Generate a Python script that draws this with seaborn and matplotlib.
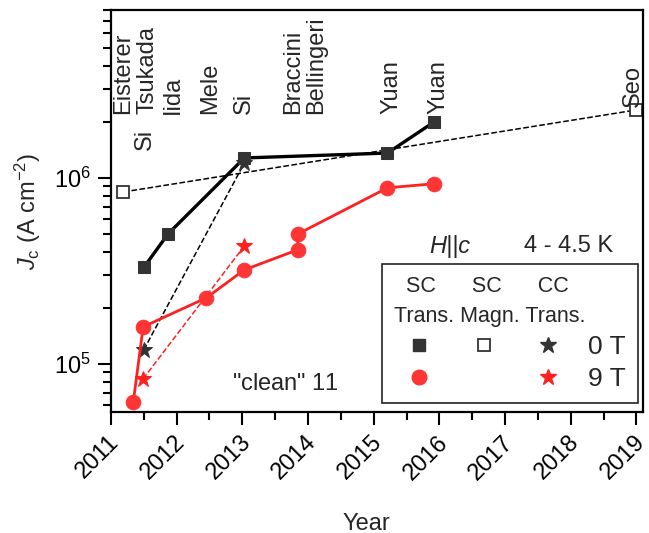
import matplotlib
matplotlib.use("Agg")
import matplotlib.pyplot as plt
import matplotlib.transforms as mtransforms
from matplotlib.lines import Line2D
from matplotlib.ticker import LogLocator, NullFormatter, MultipleLocator
import seaborn as sns

# SC transport, 0 T
years_sc_0T = [2011.50, 2011.87, 2013.03, 2015.21, 2015.92]
jc_sc_0T = [3.3e5, 5.0e5, 1.28e6, 1.36e6, 2.0e6]
# SC magnetisation, 0 T
years_magn_0T = [2011.19, 2019.0]
jc_magn_0T = [8.4e5, 2.32e6]
# CC transport, 0 T
years_cc_0T = [2011.50, 2013.03]
jc_cc_0T = [1.19e5, 1.20e6]
# SC transport, 9 T
years_sc_9T = [2011.34, 2011.49, 2012.45, 2013.03, 2013.84, 2013.85, 2015.21, 2015.92]
jc_sc_9T = [6.25e4, 1.58e5, 2.26e5, 3.2e5, 4.1e5, 5.0e5, 8.84e5, 9.3e5]
# CC transport, 9 T
years_cc_9T = [2011.49, 2013.03]
jc_cc_9T = [8.3e4, 4.3e5]

# author labels
authors = ['Eisterer', 'Tsukada', 'Si', 'Iida', 'Mele', 'Si', 'Braccini',
           'Bellingeri', 'Yuan', 'Yuan', 'Seo']
author_x = [2011.19, 2011.56, 2011.52, 2011.94, 2012.51, 2013.02, 2013.77,
            2014.12, 2015.27, 2015.98, 2018.94]
author_y = [2.22e6, 2.22e6, 1.42e6, 2.22e6, 2.22e6, 2.22e6, 2.22e6, 2.22e6,
            2.22e6, 2.22e6, 2.42e6]

sns.set_theme(style="ticks")
plt.rcParams['font.family'] = ['Liberation Sans', 'DejaVu Sans']
plt.rcParams['mathtext.fontset'] = 'custom'
plt.rcParams['mathtext.rm'] = 'Liberation Sans'
plt.rcParams['mathtext.it'] = 'Liberation Sans:style=italic'
plt.rcParams['mathtext.default'] = 'regular'

red = '#ff2020'
fs = 17
fig = plt.figure(figsize=(6.49, 5.33), dpi=100)
ax = fig.add_axes([0.171, 0.227, 0.8197, 0.7542])

sns.lineplot(x=years_magn_0T, y=jc_magn_0T, ax=ax, color='black', lw=1.1, ls='--',
             marker='s', markersize=8, markerfacecolor='white', markeredgecolor='#333333',
             markeredgewidth=1.3, estimator=None, sort=False)
sns.lineplot(x=years_cc_0T, y=jc_cc_0T, ax=ax, color='black', lw=1.1, ls='--',
             marker='*', markersize=12, markerfacecolor='#333333', markeredgecolor='#333333',
             estimator=None, sort=False)
sns.lineplot(x=years_cc_9T, y=jc_cc_9T, ax=ax, color=red, lw=1.1, ls='--',
             marker='*', markersize=12, markerfacecolor=red, markeredgecolor=red,
             estimator=None, sort=False)
sns.lineplot(x=years_sc_9T, y=jc_sc_9T, ax=ax, color=red, lw=2.0,
             marker='o', markersize=10.5, markerfacecolor='#ff3535', markeredgecolor='#ff3535',
             estimator=None, sort=False)
sns.lineplot(x=years_sc_0T, y=jc_sc_0T, ax=ax, color='black', lw=2.4,
             marker='s', markersize=9, markerfacecolor='#333333', markeredgecolor='#333333',
             estimator=None, sort=False)

ax.set_yscale('log')
ax.set_xlim(2011, 2019.1)
ax.set_ylim(5.5e4, 8e6)

for name, x, y in zip(authors, author_x, author_y):
    ax.text(x, y, name, rotation=90, ha='center', va='bottom', fontsize=fs)

ax.text(2016.16, 4.3e5, 'H||c', ha='center', va='center', fontsize=fs, fontstyle='italic')
ax.text(2017.97, 4.3e5, '4 - 4.5 K', ha='center', va='center', fontsize=fs)
ax.text(2013.65, 7.8e4, '"clean" $\\mathit{11}$', ha='center', va='center', fontsize=fs)

# legend
handles = [
    Line2D([], [], ls='none', marker='s', markersize=9, color='#333333'),
    Line2D([], [], ls='none', marker='o', markersize=10.5, color='#ff3535'),
    Line2D([], [], ls='none', marker='s', markersize=8, markerfacecolor='white',
           markeredgecolor='#333333', markeredgewidth=1.3),
    Line2D([], [], ls='none'),
    Line2D([], [], ls='none', marker='*', markersize=12, color='#333333'),
    Line2D([], [], ls='none', marker='*', markersize=12, color=red),
]
labels = ['', '', '', '', '0 T', '9 T']
leg = ax.legend(handles, labels, ncol=3, loc='lower right', bbox_to_anchor=(0.99, 0.022),
                borderaxespad=0, fontsize=19, title='  SC      SC      CC\nTrans. Magn. Trans.',
                title_fontsize=15.5, alignment='left', handlelength=1.9, handletextpad=0.55,
                columnspacing=0.0, labelspacing=0.3, borderpad=0.45, fancybox=False,
                framealpha=1, edgecolor='#222222')
leg.get_frame().set_linewidth(1.2)
leg.get_title().set_multialignment('left')
leg.get_title().set_linespacing(1.6)

# axes styling
for s in ax.spines.values():
    s.set_linewidth(1.6)
    s.set_color('black')
ax.xaxis.set_major_locator(MultipleLocator(1))
ax.xaxis.set_minor_locator(MultipleLocator(0.5))
ax.yaxis.set_major_locator(LogLocator(base=10))
ax.yaxis.set_minor_locator(LogLocator(base=10, subs=range(2, 10)))
ax.yaxis.set_minor_formatter(NullFormatter())
ax.tick_params(which='major', direction='out', length=9.5, width=1.5, labelsize=fs,
               color='black', labelcolor='black')
ax.tick_params(which='minor', direction='out', length=5.5, width=1.5, color='black')
ax.tick_params(axis='y', which='major', pad=5)
ax.set_xticks(range(2011, 2020))
ax.set_xticklabels([str(y) for y in range(2011, 2020)], rotation=45, ha='right',
                   rotation_mode='anchor', va='center')
offset = mtransforms.ScaledTranslation(5 / 100, -9 / 100, fig.dpi_scale_trans)
for lab in ax.get_xticklabels():
    lab.set_transform(lab.get_transform() + offset)

ax.set_xlabel('Year', fontsize=fs)
ax.xaxis.set_label_coords(0.48, -0.25)
ax.set_ylabel('$\\mathit{J}_{\\mathrm{c}}$ (A cm$^{-2}$)', fontsize=fs, labelpad=8)

fig.savefig('out.png', dpi=100)
